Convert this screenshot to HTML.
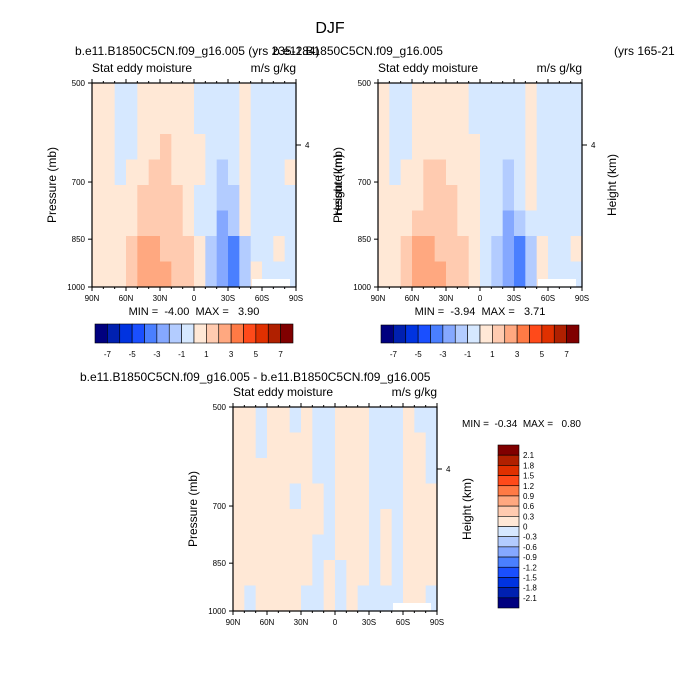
<!DOCTYPE html>
<html><head><meta charset="utf-8"><style>
body{margin:0;background:#fff;}
svg{display:block;font-family:"Liberation Sans",sans-serif;}
text{white-space:pre;}
</style></head><body>
<svg id="fig" width="680" height="698" viewBox="0 0 680 698"></svg>
<script>
// ---- data ----
const latLabels = ["90N","60N","30N","0","30S","60S","90S"];
const presLabels = [500,700,850,1000];
const levelsMain = [-7,-6,-5,-4,-3,-2,-1,0,1,2,3,4,5,6,7];
const levelsMainLabels = [-7,-5,-3,-1,1,3,5,7];
const levelsDiff = [-2.1,-1.8,-1.5,-1.2,-0.9,-0.6,-0.3,0,0.3,0.6,0.9,1.2,1.5,1.8,2.1];
const palette = ["#00007f","#0020b0","#0033e0","#1a4fff","#4a7fff","#85a8ff","#b3ccff","#d6e8ff","#ffe8d6","#ffcbb0","#ffa880","#ff7a45","#ff4a1a","#e03000","#b02000","#800000"];
const fieldA = [
[.5,.5,-.5,-.5,.5,.5,.5,.5,.5,-.5,-.5,-.5,-.5,.5,-.5,-.5,-.5,-.5],
[.5,.5,-.5,-.5,.5,.5,.5,.5,.5,-.5,-.5,-.5,-.5,.5,-.5,-.5,-.5,-.5],
[.5,.5,-.5,-.5,.5,.5,1.5,.5,.5,.5,-.5,-.5,-.5,.5,-.5,-.5,-.5,-.5],
[.5,.5,-.5,.5,.5,1.5,1.5,.5,.5,.5,-.5,-1.5,-.5,.5,-.5,-.5,-.5,.5],
[.5,.5,.5,.5,1.5,1.5,1.5,1.5,.5,-.5,-.5,-1.5,-1.5,.5,-.5,-.5,-.5,-.5],
[.5,.5,.5,.5,1.5,1.5,1.5,1.5,.5,-.5,-.5,-2.5,-1.5,.5,-.5,-.5,-.5,-.5],
[.5,.5,.5,1.5,2.5,2.5,1.5,1.5,1.5,.5,-1.5,-2.5,-3.5,-1.5,-.5,-.5,.5,-.5],
[.5,.5,.5,1.5,2.5,2.5,2.5,1.5,1.5,.5,-1.5,-2.5,-3.5,-1.5,.5,-.5,-.5,-.5]];
const fieldB = [
[.5,-.5,-.5,.5,.5,.5,.5,.5,-.5,-.5,-.5,-.5,-.5,.5,-.5,-.5,-.5,-.5],
[.5,-.5,-.5,.5,.5,.5,.5,.5,-.5,-.5,-.5,-.5,-.5,.5,-.5,-.5,-.5,-.5],
[.5,-.5,-.5,.5,.5,.5,.5,.5,.5,-.5,-.5,-.5,-.5,.5,-.5,-.5,-.5,-.5],
[.5,-.5,.5,.5,1.5,1.5,.5,.5,.5,-.5,-.5,-1.5,-.5,.5,-.5,-.5,-.5,-.5],
[.5,.5,.5,.5,1.5,1.5,1.5,.5,.5,-.5,-.5,-1.5,-.5,.5,-.5,-.5,-.5,-.5],
[.5,.5,.5,1.5,1.5,1.5,1.5,.5,.5,-.5,-.5,-2.5,-1.5,-.5,-.5,-.5,-.5,-.5],
[.5,.5,1.5,2.5,2.5,1.5,1.5,1.5,.5,-.5,-1.5,-2.5,-3.5,-1.5,.5,-.5,-.5,.5],
[.5,.5,1.5,2.5,2.5,2.5,1.5,1.5,.5,-.5,-1.5,-2.5,-3.5,-1.5,.5,-.5,-.5,-.5]];
const fieldD = [
[.15,.15,-.15,.15,.15,-.15,.15,-.15,-.15,.15,.15,.15,-.15,-.15,-.15,.15,-.15,-.15],
[.15,.15,-.15,.15,.15,.15,.15,-.15,-.15,.15,.15,.15,-.15,-.15,-.15,.15,.15,-.15],
[.15,.15,.15,.15,.15,.15,.15,-.15,-.15,.15,.15,.15,-.15,-.15,-.15,.15,.15,-.15],
[.15,.15,.15,.15,.15,-.15,.15,.15,-.15,.15,.15,.15,-.15,-.15,-.15,.15,.15,.15],
[.15,.15,.15,.15,.15,.15,.15,.15,-.15,.15,.15,.15,-.15,.15,-.15,.15,.15,.15],
[.15,.15,.15,.15,.15,.15,.15,-.15,-.15,.15,.15,.15,-.15,.15,-.15,.15,.15,.15],
[.15,.15,.15,.15,.15,.15,.15,-.15,.15,-.15,.15,.15,-.15,.15,-.15,.15,.15,.15],
[.15,-.15,.15,.15,.15,.15,-.15,-.15,.15,-.15,.15,-.15,-.15,-.15,-.15,.15,.15,-.15]];

const NS="http://www.w3.org/2000/svg";
const svg=document.getElementById('fig');
function mk(tag,attrs,parent){const e=document.createElementNS(NS,tag);for(const k in attrs)e.setAttribute(k,attrs[k]);(parent||svg).appendChild(e);return e;}
function txt(s,x,y,size,anchor,parent,rot){const t=mk('text',{x:x,y:y,'font-size':size,'text-anchor':anchor||'start',fill:'#000'},parent);if(rot)t.setAttribute('transform','rotate(-90 '+x+' '+y+')');t.textContent=s;return t;}
function colorFor(v,levels){let i=0;while(i<levels.length&&v>=levels[i])i++;return palette[i];}

function panel(px,py,field,levels,name,minmax,hOff){
  const W=204,H=204;
  const g=mk('g',{});
  
  
  const xs=lat=>px+(90-lat)/180*W;
  const ys=p=>py+(Math.log(p)-Math.log(500))/(Math.log(1000)-Math.log(500))*H;
  const rows=field.length,cols=field[0].length;
  for(let r=0;r<rows;r++)for(let c=0;c<cols;c++){
    const x0=xs(90-c*10),x1=xs(80-c*10);
    const y0=py+r*H/rows,y1=py+(r+1)*H/rows;
    const cell=mk('rect',{x:x0,y:y0,width:x1-x0+0.6,height:y1-y0+0.6,fill:colorFor(field[r][c],levels)},g);
    
    
  }
  mk('rect',{x:px+160,y:py+196,width:38,height:8,fill:'#fff'},g);
  mk('rect',{x:px,y:py,width:W,height:H,fill:'none',stroke:'#000','stroke-width':1.2},g);
  latLabels.forEach((l,i)=>{const x=px+i*W/6;mk('line',{x1:x,y1:py+H,x2:x,y2:py+H+4,stroke:'#000'},g);mk('line',{x1:x,y1:py,x2:x,y2:py-4,stroke:'#000'},g);txt(l,x,py+H+14,8,'middle',g);});
  for(let i=0;i<18;i++){const x=px+i*W/18;mk('line',{x1:x,y1:py+H,x2:x,y2:py+H+2,stroke:'#000'},g);mk('line',{x1:x,y1:py,x2:x,y2:py-2,stroke:'#000'},g);}
  presLabels.forEach(p=>{const y=ys(p);mk('line',{x1:px,y1:y,x2:px-4,y2:y,stroke:'#000'},g);txt(String(p),px-7,y+3,8,'end',g);});
  const y4=py+62;mk('line',{x1:px+W,y1:y4,x2:px+W+5,y2:y4,stroke:'#000'},g);txt('4',px+W+9,y4+3,8,'start',g);
  txt('Stat eddy moisture',px,py-11,12,'start',g);
  txt('m/s g/kg',px+W,py-11,12,'end',g);
  txt('Pressure (mb)',px-36,py+H/2,12,'middle',g,true);
  txt('Height (km)',px+W+hOff,py+H/2,12,'middle',g,true);
  if(minmax)txt(minmax,px+W/2,py+H+28,11,'middle',g);
}
function hbar(x,y,w,h,levels,labels,name){
  const g=mk('g',{});
  const n=levels.length+1,bw=w/n;
  for(let i=0;i<n;i++){const b=mk('rect',{x:x+i*bw,y:y,width:bw,height:h,fill:palette[i],stroke:'#000','stroke-width':0.6},g);}
  labels.forEach(l=>{const i=levels.indexOf(l);txt(String(l),x+(i+1)*bw,y+h+14,8,'middle',g);});
}
function vbar(x,y,w,h,levels,name){
  const g=mk('g',{});
  const n=levels.length+1,bh=h/n;
  for(let i=0;i<n;i++){const b=mk('rect',{x:x,y:y+i*bh,width:w,height:bh,fill:palette[n-1-i],stroke:'#000','stroke-width':0.6},g);}
  for(let i=0;i<levels.length;i++){txt(String(levels[levels.length-1-i]),x+w+4,y+(i+1)*bh+3,8,'start',g);}
}
const t=txt('DJF',330,33,16,'middle');
txt('b.e11.B1850C5CN.f09_g16.005 (yrs 235-284)',75,55,12,'start');
txt('b.e11.B1850C5CN.f09_g16.005',273,55,12,'start');
txt('(yrs 165-21',614,55,12,'start');
panel(92,83,fieldA,levelsMain,'panel-case1','MIN =  -4.00  MAX =   3.90',46);
panel(378,83,fieldB,levelsMain,'panel-case2','MIN =  -3.94  MAX =   3.71',34);
hbar(95,324,198,19,levelsMain,levelsMainLabels,'colorbar-case1');
hbar(381,325,198,18,levelsMain,levelsMainLabels,'colorbar-case2');
txt('b.e11.B1850C5CN.f09_g16.005 - b.e11.B1850C5CN.f09_g16.005',80,381,12,'start');
panel(233,407,fieldD,levelsDiff,'panel-difference',null,34);
txt('MIN =  -0.34  MAX =   0.80',462,427,10,'start');
vbar(498,445,21,163,levelsDiff,'colorbar-difference');
</script>
</body></html>
